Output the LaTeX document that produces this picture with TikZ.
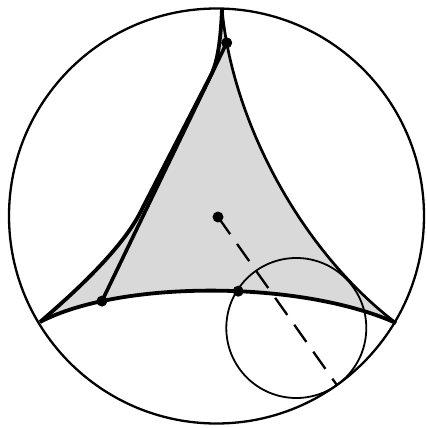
\documentclass[tikz,border=0pt]{standalone}
\usepackage{tikz}
\usetikzlibrary{calc}

\begin{document}
\begin{tikzpicture}[
    x=1pt, y=-1pt,
    % ── styles ──
    rim/.style   = {line width=2.3pt},
    tri/.style   = {fill=gray!30},
    geod/.style  = {line width=3.8pt, line join=round},
    side/.style  = {line width=2.7pt},
    chord/.style = {line width=3.6pt, line cap=round},
    horo/.style  = {line width=1.8pt},
    ray/.style   = {line width=2.3pt, dash pattern=on 21pt off 12pt},
    vdot/.style  = {circle, fill=black, inner sep=0pt, minimum size=11pt},
]
\useasboundingbox (0,0) rectangle (427,428);

% ── points
\coordinate (C)  at (216.5,216);
\coordinate (T)  at (222,9);
\coordinate (BL) at (40,322);
\coordinate (BR) at (396,323);
\coordinate (O)  at (218,217);
\coordinate (H)  at (296.3,328);
\coordinate (E)  at (336.9,385.1);

% ── shaded ideal triangle
\fill[tri] (BL) .. controls (95,275) and (126,240) .. (140,213) -- (211,75)
    .. controls (219,59) and (221,32) .. (T)
    .. controls (232,120) and (300,250) .. (BR)
    .. controls (300,280) and (120,280) .. (BL) -- cycle;

% ── horocycle at E
\draw[horo] (H) circle[radius=70pt];

% ── sides
\draw[geod] (BL) .. controls (95,275) and (126,240) .. (140,213) -- (211,75)
    .. controls (219,59) and (221,32) .. (T);
\draw[geod] (BL) .. controls (120,280) and (300,280) .. (BR)
    coordinate[pos=0.21] (P) coordinate[pos=0.565] (Q);
\draw[side] (T) .. controls (232,120) and (300,250) .. (BR)
    coordinate[pos=0.1] (R);

% ── chord and ray
\draw[chord] (P) -- (R);
\draw[ray] (O) -- (E);

% ── boundary circle
\draw[rim] (C) circle[radius=207.5pt];

% ── dots
\node[vdot] (dO) at (O) {};
\node[vdot] (dP) at (P) {};
\node[vdot] (dQ) at (Q) {};
\node[vdot] (dR) at (R) {};

\end{tikzpicture}
\end{document}
